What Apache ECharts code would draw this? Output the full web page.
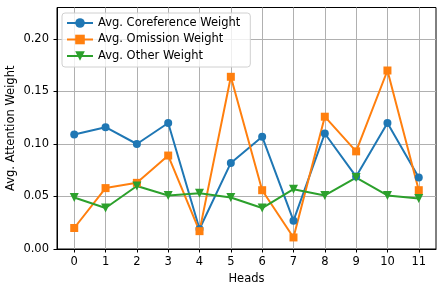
<!DOCTYPE html>
<html><head><meta charset="utf-8">
<script src="https://cdn.jsdelivr.net/npm/echarts@6/dist/echarts.min.js"></script>
<style>html,body{margin:0;padding:0;background:#fff}#c{width:446px;height:291px}</style>
</head><body><div id="c"></div>
<script>
const heads = [0,1,2,3,4,5,6,7,8,9,10,11];
const corefWeight = [0.109,0.116,0.100,0.120,0.019,0.082,0.107,0.027,0.110,0.069,0.120,0.068];
const omissionWeight = [0.020,0.058,0.063,0.089,0.017,0.164,0.056,0.011,0.126,0.093,0.170,0.056];
const otherWeight = [0.049,0.039,0.060,0.051,0.053,0.049,0.039,0.057,0.051,0.068,0.051,0.048];
const yTicks = [0,0.05,0.10,0.15,0.20];
const seriesNames = ['Avg. Coreference Weight','Avg. Omission Weight','Avg. Other Weight'];

const font = 'DejaVu Sans';
const fs = 11.5;
const chart = echarts.init(document.getElementById('c'), null, {renderer:'canvas'});
function mk(name, vals, color, symbol, rot, size){
  return {name, type:'line', data: heads.map((h,i)=>[h, vals[i]]),
    symbol, symbolSize:size, symbolRotate:rot, showAllSymbol:true,
    lineStyle:{color, width:2}, itemStyle:{color, borderWidth:0}, emphasis:{disabled:true}, animation:false};
}
chart.setOption({
  animation:false,
  grid:{left:57, right:10, top:7.5, bottom:42, outerBoundsMode:'none', containLabel:false, show:true, borderColor:'#000', borderWidth:1, backgroundColor:'transparent'},
  legend:{show:true, left:62, top:13, orient:'vertical', itemGap:4.5, itemWidth:26, itemHeight:12,
    padding:[4,10,5,4], borderColor:'#d0d0d0', borderWidth:1, borderRadius:3, backgroundColor:'rgba(255,255,255,0.8)',
    textStyle:{fontFamily:font, fontSize:fs, color:'#000'}, data:seriesNames},
  xAxis:{type:'value', min:-0.55, max:11.55,
    name:'Heads', nameLocation:'middle', nameGap:24, nameMoveOverlap:false, nameTextStyle:{fontFamily:font, fontSize:fs, color:'#000'},
    axisLine:{show:true, onZero:false, lineStyle:{color:'#000', width:1}},
    axisTick:{show:true, customValues:heads, length:3.5, lineStyle:{color:'#000'}},
    axisLabel:{customValues:heads, fontFamily:font, fontSize:fs, color:'#000', margin:7},
    splitLine:{show:true, lineStyle:{color:'#b0b0b0', width:1}}},
  yAxis:{type:'value', min:0, max:0.23,
    name:'Avg. Attention Weight', nameLocation:'middle', nameGap:40, nameRotate:90, nameMoveOverlap:false, nameTextStyle:{fontFamily:font, fontSize:fs, color:'#000'},
    axisLine:{show:true, onZero:false, lineStyle:{color:'#000', width:1}},
    axisTick:{show:true, customValues:yTicks, length:3.5, lineStyle:{color:'#000'}},
    axisLabel:{customValues:yTicks, fontFamily:font, fontSize:fs, color:'#000', margin:8, formatter:v=>v.toFixed(2)},
    splitLine:{show:true, lineStyle:{color:'#b0b0b0', width:1}}},
  series:[
    mk(seriesNames[0], corefWeight, '#1f77b4', 'circle', 0, 8),
    mk(seriesNames[1], omissionWeight, '#ff7f0e', 'rect', 0, 8),
    mk(seriesNames[2], otherWeight, '#2ca02c', 'triangle', 180, 9)
  ]
});
</script></body></html>
